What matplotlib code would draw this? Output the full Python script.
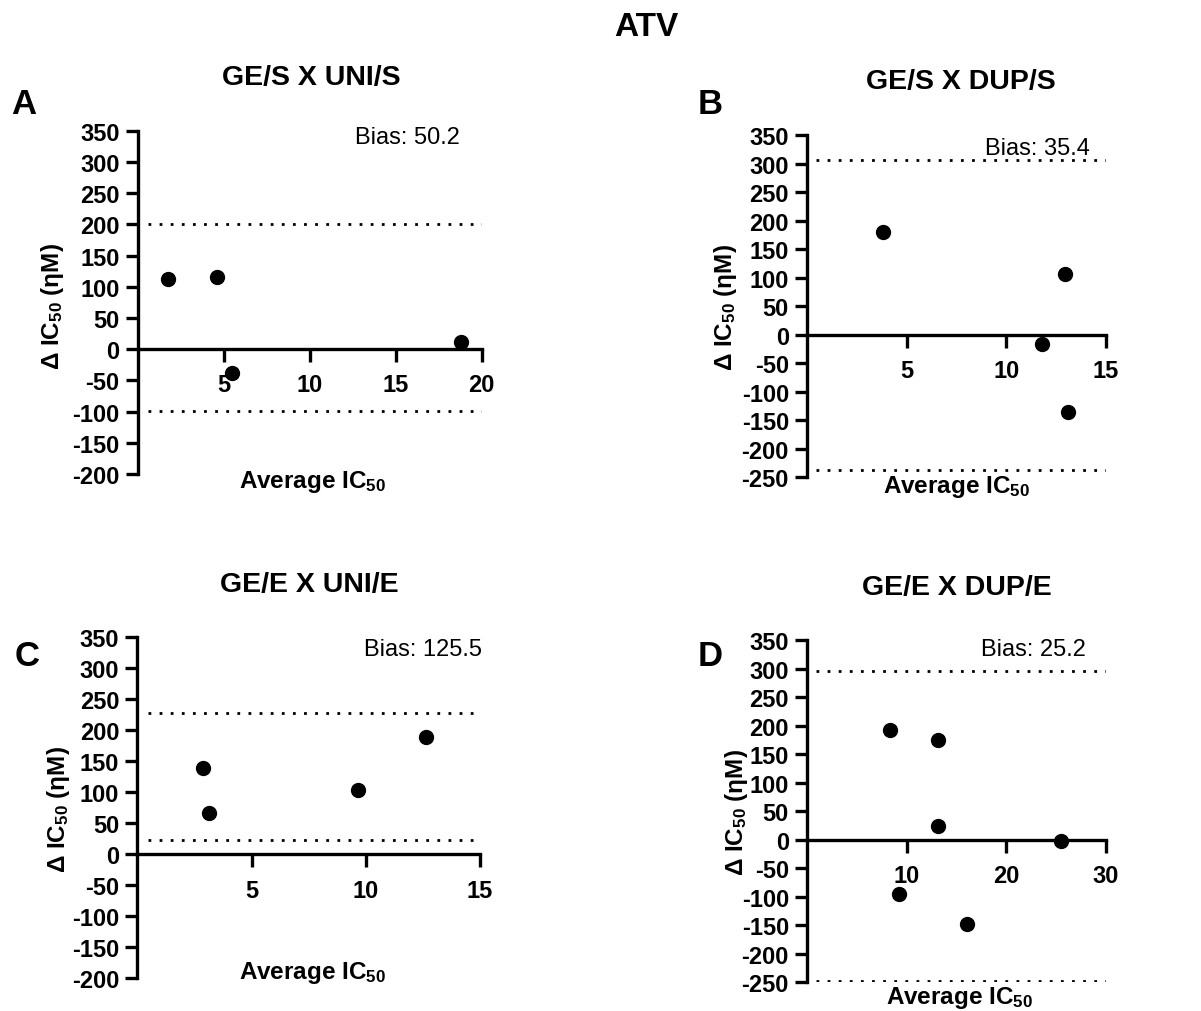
import matplotlib
matplotlib.use("Agg")
import matplotlib.pyplot as plt

W, H = 1201, 1012

# panel data (x = average IC50, y = delta IC50)
a_x = [1.73, 4.61, 5.48, 18.79]
a_y = [112, 116, -38, 12]
a_limits = [201, -99]
a_bias = 50.2

b_x = [3.80, 12.94, 11.78, 13.11]
b_y = [180, 106, -16, -136]
b_limits = [306, -238]
b_bias = 35.4

c_x = [2.88, 3.15, 9.66, 12.65]
c_y = [139, 67, 103, 189]
c_limits = [228, 23]
c_bias = 125.5

d_x = [8.33, 13.17, 13.17, 25.45, 9.26, 16.02]
d_y = [192, 175, 24, -2, -95, -148]
d_limits = [295, -247]
d_bias = 25.2

titles = ["GE/S X UNI/S", "GE/S X DUP/S", "GE/E X UNI/E", "GE/E X DUP/E"]
letters = ["A", "B", "C", "D"]

plt.rcParams["font.family"] = ["Liberation Sans", "DejaVu Sans"]
plt.rcParams["axes.unicode_minus"] = False
plt.rcParams["mathtext.fontset"] = "custom"
plt.rcParams["mathtext.rm"] = "Liberation Sans:bold"
plt.rcParams["mathtext.it"] = "Liberation Sans:bold"
plt.rcParams["mathtext.bf"] = "Liberation Sans:bold"

fig = plt.figure(figsize=(W / 100, H / 100), dpi=100)
fig.patch.set_facecolor("white")


def fx(px):
    return px / W


def fy(py):
    return 1 - py / H


def panel(box, x, y, limits, bias, xlim, ylim, xticks, title, letter,
          title_xy, letter_xy, bias_xy, ylab_xy, xlab_xy):
    left, right, top, bottom = box
    ax = fig.add_axes([fx(left), fy(bottom), fx(right - left), (bottom - top) / H])
    ax.set_xlim(*xlim)
    ax.set_ylim(*ylim)
    ax.spines["top"].set_visible(False)
    ax.spines["right"].set_visible(False)
    ax.spines["bottom"].set_position(("data", 0))
    for s in ("left", "bottom"):
        ax.spines[s].set_linewidth(2.4)
    ax.set_xticks(xticks)
    ax.set_yticks(range(ylim[0], ylim[1] + 1, 50))
    ax.tick_params(width=2.4, length=9, labelsize=17)
    ax.tick_params(axis="x", pad=8.5)
    ax.tick_params(axis="y", pad=4)
    for lab in ax.get_xticklabels() + ax.get_yticklabels():
        lab.set_fontweight("bold")
    for lim in limits:
        ax.axhline(lim, xmin=0.03, xmax=1, color="black", lw=2,
                   linestyle=(0, (1, 3)))
    ax.scatter(x, y, s=100, color="black", zorder=3, clip_on=False)

    fig.text(fx(title_xy[0]), fy(title_xy[1]), title, ha="center", va="center",
             fontsize=20.5, fontweight="bold")
    fig.text(fx(letter_xy[0]), fy(letter_xy[1]), letter, ha="center", va="center",
             fontsize=25, fontweight="bold")
    fig.text(fx(bias_xy[0]), fy(bias_xy[1]), f"Bias: {bias}", ha="right",
             va="center", fontsize=17)
    fig.text(fx(ylab_xy[0]), fy(ylab_xy[1]), "Δ IC$_{50}$ (ηM)", rotation=90,
             ha="center", va="center", fontsize=17.5, fontweight="bold")
    fig.text(fx(xlab_xy[0]), fy(xlab_xy[1]), "Average IC$_{50}$", ha="center",
             va="center", fontsize=17.5, fontweight="bold")
    return ax


panel((137.8, 481.7, 131.7, 475.0), a_x, a_y, a_limits, a_bias, (0, 20), (-200, 350),
      [5, 10, 15, 20], titles[0], letters[0],
      (311, 78), (24, 105), (460, 138), (52, 307), (313, 482))
panel((807.0, 1106.0, 136.0, 478.3), b_x, b_y, b_limits, b_bias, (0, 15), (-250, 350),
      [5, 10, 15], titles[1], letters[1],
      (961, 82), (710, 105), (1090, 149), (725, 308), (957, 487))
panel((137.4, 480.0, 638.3, 979.3), c_x, c_y, c_limits, c_bias, (0, 15), (-200, 350),
      [5, 10, 15], titles[2], letters[2],
      (309, 585), (27, 657), (482, 650), (58, 810), (313, 973))
panel((807.0, 1106.0, 641.0, 983.3), d_x, d_y, d_limits, d_bias, (0, 30), (-250, 350),
      [10, 20, 30], titles[3], letters[3],
      (957, 588), (710, 657), (1086, 650), (737, 813), (960, 998))

fig.text(fx(646), fy(28), "ATV", ha="center", va="center", fontsize=24, fontweight="bold")

fig.savefig("out.png", dpi=100, facecolor="white")
